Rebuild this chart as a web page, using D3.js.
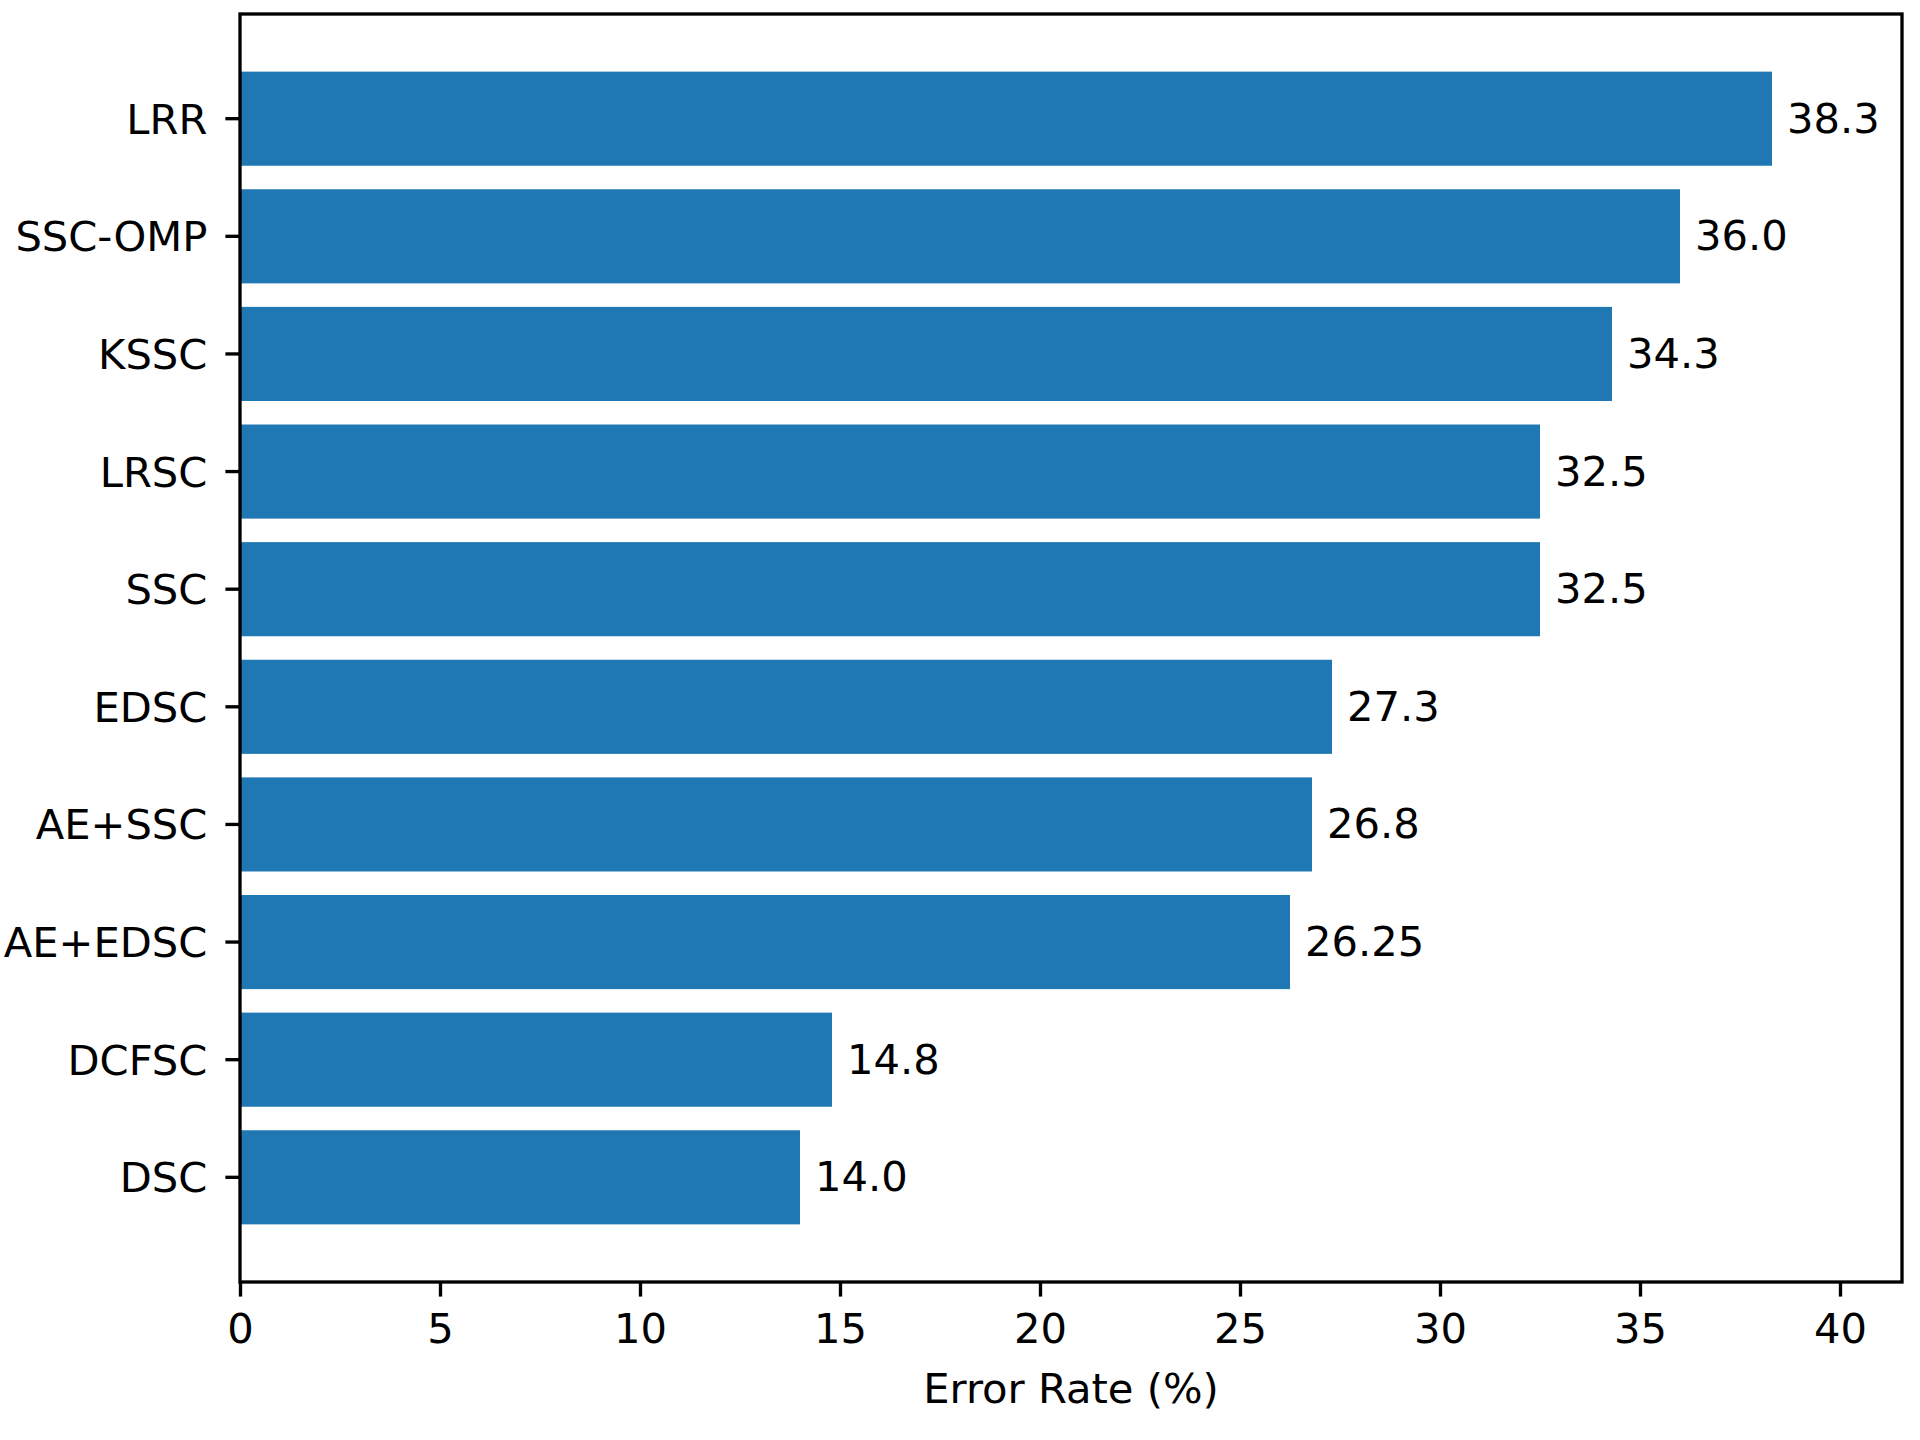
<!DOCTYPE html>
<html>
<head>
<meta charset="utf-8">
<script src="https://cdn.jsdelivr.net/npm/d3@7"></script>
<style>
  html, body { margin: 0; padding: 0; background: #fff; }
  svg { display: block; }
  text { font-family: "DejaVu Sans", sans-serif; fill: #000; }
</style>
</head>
<body>
<div id="chart"></div>
<script>
// Data (top to bottom)
const methods = ["LRR", "SSC-OMP", "KSSC", "LRSC", "SSC", "EDSC", "AE+SSC", "AE+EDSC", "DCFSC", "DSC"];
const errorRates = [38.3, 36.0, 34.3, 32.5, 32.5, 27.3, 26.8, 26.25, 14.8, 14.0];
const valueLabels = ["38.3", "36.0", "34.3", "32.5", "32.5", "27.3", "26.8", "26.25", "14.8", "14.0"];
const xTicks = [0, 5, 10, 15, 20, 25, 30, 35, 40];
const xMax = 41.55;

const width = 1920;
const height = 1440;
const margin = { top: 14, right: 18, bottom: 158, left: 240 };
const fontSize = 41.67;
const lineW = 3.33;

const svg = d3.select("#chart")
    .append("svg")
    .attr("width", width)
    .attr("height", height);

// Eixo X
const xScale = d3.scaleLinear()
    .domain([0, xMax])
    .range([margin.left, width - margin.right]);

// Eixo Y
const yScale = d3.scaleBand()
    .domain(methods)
    .range([margin.top, height - margin.bottom])
    .paddingInner(0.2)
    .paddingOuter(0.49);

const rows = methods.map((m, i) => ({ method: m, value: errorRates[i], label: valueLabels[i] }));

// bars
svg.append("g")
    .selectAll("rect")
    .data(rows)
    .join("rect")
    .attr("x", xScale(0))
    .attr("y", d => yScale(d.method))
    .attr("width", d => xScale(d.value) - xScale(0))
    .attr("height", yScale.bandwidth())
    .attr("fill", "#1f77b4");

// value labels
svg.append("g")
    .selectAll("text")
    .data(rows)
    .join("text")
    .attr("x", d => xScale(d.value) + 15)
    .attr("y", d => yScale(d.method) + yScale.bandwidth() / 2 + 14)
    .attr("font-size", fontSize)
    .text(d => d.label);

// x axis
const xAxis = svg.append("g")
    .attr("transform", `translate(0,${height - margin.bottom})`)
    .call(d3.axisBottom(xScale).tickValues(xTicks).tickFormat(d3.format("d")).tickSizeOuter(0).tickSize(14.6).tickPadding(17));
xAxis.select(".domain").remove();
xAxis.selectAll(".tick line").attr("stroke", "#000").attr("stroke-width", lineW);
xAxis.selectAll(".tick text")
    .attr("font-size", fontSize)
    .attr("font-family", "DejaVu Sans")
    .attr("fill", "#000");

// y axis
const yAxis = svg.append("g")
    .attr("transform", `translate(${margin.left},0)`)
    .call(d3.axisLeft(yScale).tickSizeOuter(0).tickSize(14.6).tickPadding(18));
yAxis.select(".domain").remove();
yAxis.selectAll(".tick line").attr("stroke", "#000").attr("stroke-width", lineW);
yAxis.selectAll(".tick text")
    .attr("dy", null)
    .attr("y", 15)
    .attr("font-size", fontSize)
    .attr("font-family", "DejaVu Sans")
    .attr("fill", "#000");

// frame
svg.append("rect")
    .attr("x", margin.left)
    .attr("y", margin.top)
    .attr("width", width - margin.left - margin.right)
    .attr("height", height - margin.top - margin.bottom)
    .attr("fill", "none")
    .attr("stroke", "#000")
    .attr("stroke-width", lineW);

// x label
svg.append("text")
    .attr("x", (margin.left + width - margin.right) / 2)
    .attr("y", 1403)
    .attr("text-anchor", "middle")
    .attr("font-size", fontSize)
    .text("Error Rate (%)");
</script>
</body>
</html>
